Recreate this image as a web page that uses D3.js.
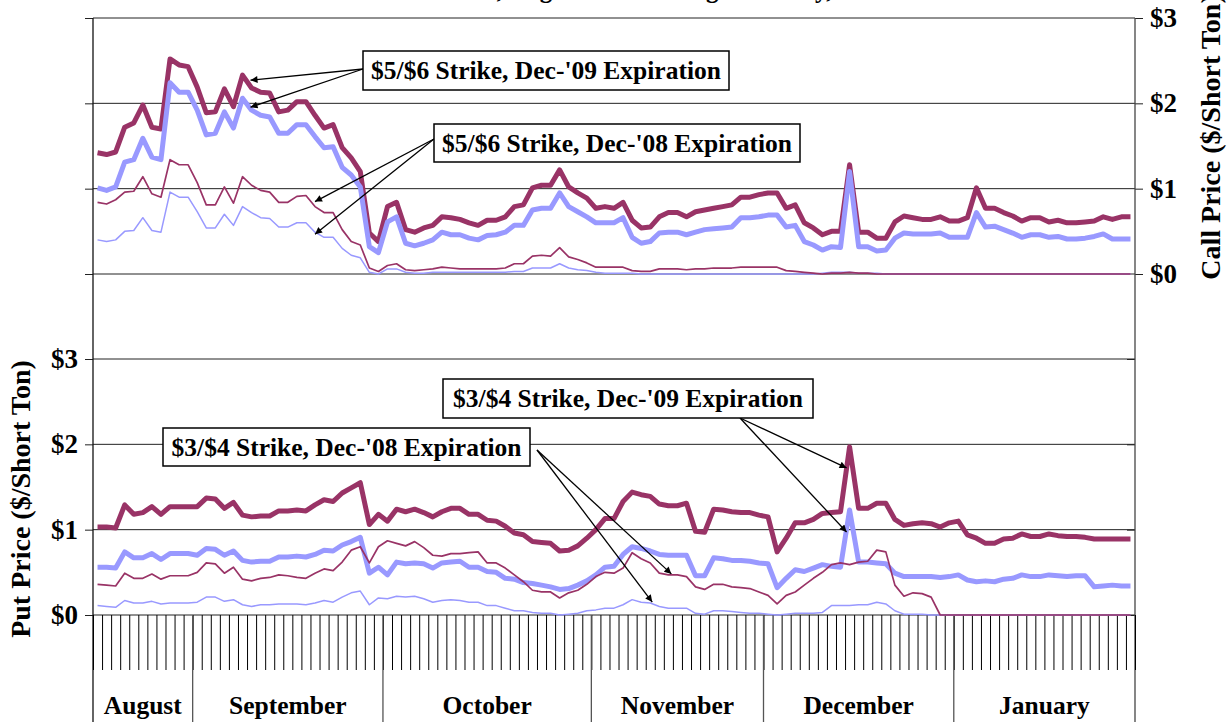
<!DOCTYPE html>
<html>
<head>
<meta charset="utf-8">
<script src="https://cdn.jsdelivr.net/npm/d3@7"></script>
<style>
  body { margin: 0; background: #fff; }
  svg text { font-family: "Liberation Serif", "Times New Roman", serif; font-weight: bold; fill: #000; }
</style>
</head>
<body>
<svg id="chart" width="1231" height="724"></svg>
<script>
// trading days per month, Aug '08 - Jan '09
const months = ["August", "September", "October", "November", "December", "January"];
const monthDays = [11, 21, 23, 19, 21, 20];
const priceTicks = [0, 1, 2, 3];

// call prices ($/short ton), one value per trading day
const call5Dec09 = [
  1.42, 1.40, 1.43, 1.72, 1.77, 1.98, 1.72, 1.70, 2.52, 2.45, 2.43,
  2.19, 1.89, 1.90, 2.17, 1.96, 2.33, 2.18, 2.13, 2.12, 1.90, 1.92, 2.02, 2.02, 1.86, 1.71, 1.75, 1.48, 1.36, 1.20, 0.48, 0.38,
  0.79, 0.84, 0.52, 0.49, 0.54, 0.57, 0.67, 0.66, 0.64, 0.60, 0.57, 0.63, 0.63, 0.67, 0.79, 0.81, 1.01, 1.04, 1.04, 1.22, 1.02, 0.95, 0.89,
  0.77, 0.79, 0.77, 0.84, 0.63, 0.54, 0.55, 0.67, 0.72, 0.72, 0.67, 0.73, 0.75, 0.77, 0.79, 0.81, 0.90, 0.90, 0.93,
  0.95, 0.95, 0.77, 0.81, 0.60, 0.54, 0.46, 0.50, 0.50, 1.28, 0.49, 0.49, 0.42, 0.42, 0.61, 0.68, 0.66, 0.64, 0.64, 0.67, 0.62,
  0.62, 0.66, 1.01, 0.77, 0.77, 0.72, 0.68, 0.62, 0.66, 0.66, 0.61, 0.63, 0.60, 0.60, 0.61, 0.62, 0.67, 0.64, 0.67, 0.67
];
const call6Dec09 = [
  1.01, 0.98, 1.02, 1.31, 1.34, 1.59, 1.37, 1.34, 2.24, 2.13, 2.13,
  1.92, 1.63, 1.65, 1.90, 1.71, 2.06, 1.92, 1.86, 1.84, 1.65, 1.65, 1.75, 1.75, 1.61, 1.48, 1.49, 1.25, 1.16, 1.02, 0.32, 0.25,
  0.61, 0.67, 0.36, 0.33, 0.36, 0.40, 0.49, 0.46, 0.46, 0.42, 0.40, 0.45, 0.46, 0.49, 0.57, 0.57, 0.75, 0.77, 0.77, 0.95, 0.79, 0.73, 0.67,
  0.60, 0.60, 0.60, 0.66, 0.43, 0.36, 0.38, 0.48, 0.49, 0.49, 0.46, 0.49, 0.52, 0.53, 0.54, 0.55, 0.66, 0.66, 0.67,
  0.69, 0.69, 0.55, 0.57, 0.38, 0.34, 0.28, 0.32, 0.31, 1.20, 0.32, 0.32, 0.27, 0.28, 0.42, 0.48, 0.47, 0.47, 0.47, 0.48, 0.43,
  0.43, 0.43, 0.72, 0.55, 0.56, 0.52, 0.48, 0.43, 0.46, 0.46, 0.43, 0.44, 0.41, 0.41, 0.42, 0.44, 0.47, 0.41, 0.41, 0.41
];
const call5Dec08 = [
  0.84, 0.82, 0.87, 0.96, 0.97, 1.14, 0.94, 0.90, 1.34, 1.28, 1.28,
  1.07, 0.81, 0.81, 1.02, 0.83, 1.14, 1.04, 0.98, 0.96, 0.84, 0.84, 0.91, 0.92, 0.79, 0.72, 0.72, 0.52, 0.38, 0.34, 0.07, 0.03,
  0.10, 0.12, 0.05, 0.04, 0.05, 0.06, 0.08, 0.07, 0.06, 0.06, 0.06, 0.06, 0.06, 0.07, 0.12, 0.12, 0.21, 0.22, 0.21, 0.31, 0.20, 0.17, 0.13,
  0.08, 0.08, 0.08, 0.08, 0.04, 0.03, 0.03, 0.06, 0.06, 0.06, 0.05, 0.06, 0.06, 0.07, 0.07, 0.07, 0.08, 0.08, 0.08,
  0.08, 0.08, 0.04, 0.03, 0.02, 0.01, 0.00, 0.01, 0.01, 0.02, 0.01, 0.01, 0, 0, 0, 0, 0, 0, 0, 0, 0,
  0, 0, 0, 0, 0, 0, 0, 0, 0, 0, 0, 0, 0, 0, 0, 0, 0, 0, 0, 0
];
const call6Dec08 = [
  0.40, 0.38, 0.40, 0.50, 0.51, 0.66, 0.51, 0.49, 0.96, 0.90, 0.90,
  0.73, 0.54, 0.54, 0.70, 0.57, 0.79, 0.72, 0.66, 0.65, 0.55, 0.55, 0.60, 0.60, 0.49, 0.43, 0.43, 0.30, 0.22, 0.19, 0.02, 0.00,
  0.06, 0.06, 0.02, 0.01, 0.01, 0.02, 0.02, 0.02, 0.02, 0.02, 0.02, 0.02, 0.02, 0.02, 0.03, 0.03, 0.07, 0.07, 0.07, 0.12, 0.07, 0.05, 0.04,
  0.02, 0.01, 0.01, 0.01, 0.01, 0, 0, 0, 0, 0, 0, 0, 0, 0, 0, 0, 0, 0, 0,
  0, 0, 0, 0, 0, 0, 0.01, 0.02, 0.02, 0.02, 0.01, 0.01, 0.01, 0, 0, 0, 0, 0, 0, 0, 0,
  0, 0, 0, 0, 0, 0, 0, 0, 0, 0, 0, 0, 0, 0, 0, 0, 0, 0, 0, 0
];

// put prices ($/short ton)
const put4Dec09 = [
  1.03, 1.03, 1.02, 1.29, 1.18, 1.20, 1.27, 1.18, 1.27, 1.27, 1.27,
  1.27, 1.37, 1.36, 1.25, 1.32, 1.17, 1.15, 1.16, 1.16, 1.22, 1.22, 1.23, 1.22, 1.29, 1.35, 1.33, 1.43, 1.49, 1.55, 1.06, 1.18,
  1.10, 1.24, 1.21, 1.24, 1.20, 1.15, 1.21, 1.25, 1.25, 1.18, 1.18, 1.11, 1.10, 1.04, 0.96, 0.94, 0.86, 0.85, 0.84, 0.75, 0.76, 0.81, 0.90,
  1.00, 1.13, 1.13, 1.33, 1.44, 1.41, 1.39, 1.30, 1.28, 1.28, 1.31, 0.98, 0.97, 1.24, 1.23, 1.21, 1.20, 1.20, 1.17,
  1.15, 0.74, 0.90, 1.08, 1.08, 1.12, 1.19, 1.20, 1.21, 1.97, 1.25, 1.25, 1.31, 1.31, 1.12, 1.05, 1.07, 1.08, 1.07, 1.03, 1.08,
  1.10, 0.94, 0.90, 0.84, 0.84, 0.89, 0.90, 0.95, 0.92, 0.92, 0.95, 0.93, 0.92, 0.92, 0.91, 0.89, 0.89, 0.89, 0.89, 0.89
];
const put3Dec09 = [
  0.56, 0.56, 0.55, 0.74, 0.67, 0.67, 0.72, 0.65, 0.72, 0.72, 0.72,
  0.70, 0.78, 0.77, 0.70, 0.75, 0.64, 0.62, 0.63, 0.63, 0.68, 0.68, 0.69, 0.68, 0.71, 0.76, 0.75, 0.82, 0.86, 0.91, 0.49, 0.56,
  0.47, 0.62, 0.60, 0.61, 0.60, 0.55, 0.61, 0.62, 0.63, 0.56, 0.56, 0.51, 0.50, 0.43, 0.42, 0.38, 0.37, 0.35, 0.33, 0.30, 0.31, 0.35, 0.40,
  0.47, 0.56, 0.57, 0.71, 0.80, 0.78, 0.75, 0.71, 0.70, 0.70, 0.70, 0.46, 0.46, 0.67, 0.66, 0.64, 0.64, 0.63, 0.61,
  0.60, 0.32, 0.43, 0.53, 0.51, 0.55, 0.59, 0.57, 0.56, 1.23, 0.62, 0.62, 0.61, 0.60, 0.49, 0.45, 0.45, 0.45, 0.45, 0.44, 0.45,
  0.47, 0.41, 0.39, 0.40, 0.39, 0.42, 0.43, 0.47, 0.45, 0.45, 0.47, 0.46, 0.45, 0.46, 0.46, 0.33, 0.34, 0.35, 0.34, 0.34
];
const put4Dec08 = [
  0.36, 0.35, 0.34, 0.49, 0.43, 0.43, 0.48, 0.42, 0.46, 0.46, 0.46,
  0.50, 0.61, 0.60, 0.49, 0.56, 0.42, 0.40, 0.43, 0.44, 0.47, 0.46, 0.44, 0.43, 0.49, 0.54, 0.52, 0.62, 0.76, 0.80, 0.61, 0.80,
  0.87, 0.84, 0.81, 0.86, 0.79, 0.70, 0.69, 0.72, 0.72, 0.73, 0.74, 0.61, 0.61, 0.55, 0.47, 0.39, 0.29, 0.27, 0.27, 0.20, 0.26, 0.29, 0.36,
  0.45, 0.50, 0.49, 0.55, 0.73, 0.66, 0.61, 0.49, 0.47, 0.47, 0.45, 0.33, 0.30, 0.36, 0.36, 0.33, 0.32, 0.31, 0.27,
  0.23, 0.13, 0.23, 0.27, 0.35, 0.43, 0.50, 0.59, 0.61, 0.59, 0.62, 0.63, 0.76, 0.74, 0.35, 0.22, 0.26, 0.25, 0.21, 0, 0,
  0, 0, 0, 0, 0, 0, 0, 0, 0, 0, 0, 0, 0, 0, 0, 0, 0, 0, 0, 0
];
const put3Dec08 = [
  0.11, 0.10, 0.09, 0.17, 0.14, 0.14, 0.16, 0.13, 0.14, 0.14, 0.14,
  0.15, 0.21, 0.21, 0.16, 0.18, 0.12, 0.10, 0.12, 0.12, 0.13, 0.13, 0.13, 0.12, 0.14, 0.17, 0.15, 0.21, 0.26, 0.28, 0.12, 0.20,
  0.19, 0.22, 0.21, 0.22, 0.19, 0.15, 0.17, 0.18, 0.17, 0.15, 0.15, 0.11, 0.11, 0.08, 0.05, 0.05, 0.03, 0.02, 0.02, 0.00, 0.01, 0.02, 0.05,
  0.06, 0.08, 0.08, 0.12, 0.18, 0.15, 0.14, 0.10, 0.08, 0.08, 0.08, 0.02, 0.01, 0.05, 0.05, 0.04, 0.03, 0.02, 0.02,
  0.01, 0.00, 0.01, 0.02, 0.02, 0.02, 0.03, 0.11, 0.11, 0.11, 0.12, 0.12, 0.15, 0.13, 0.05, 0.01, 0.01, 0.01, 0.00, 0, 0,
  0, 0, 0, 0, 0, 0, 0, 0, 0, 0, 0, 0, 0, 0, 0, 0, 0, 0, 0, 0
];

const MAROON = "#993366";
const BLUE = "#9999ff";
const nDays = d3.sum(monthDays);

const svg = d3.select("#chart");
const left = 93, right = 1135;

const x = d3.scaleBand().domain(d3.range(nDays)).range([left, right]);
const xEdge = d3.scaleLinear().domain([0, nDays]).range([left, right]);
const yCall = d3.scaleLinear().domain([0, 3]).range([274, 18]);
const yPut = d3.scaleLinear().domain([0, 3]).range([615, 359]);

// title sits above the picture, only its descenders show
svg.append("text")
  .attr("x", 600).attr("y", -2)
  .attr("text-anchor", "middle")
  .style("font-size", "25px")
  .text("Settlement Prices, August 2008 through January, 2009");

// gridlines
[yCall, yPut].forEach(y => {
  svg.append("g").selectAll("line")
    .data(priceTicks)
    .join("line")
    .attr("x1", left).attr("x2", right)
    .attr("y1", d => y(d)).attr("y2", d => y(d))
    .attr("stroke", "#222").attr("stroke-width", 1);
});

// left axis: put labels, unlabeled ticks for call levels
const gLeft = svg.append("g").attr("transform", `translate(${left},0)`);
gLeft.append("g").call(d3.axisLeft(yPut).tickValues(priceTicks).tickSize(8).tickPadding(7).tickFormat(d => `$${d}`));
gLeft.append("g").call(d3.axisLeft(yCall).tickValues(priceTicks).tickSize(8).tickFormat(""));

// right axis: call labels, inner ticks for put levels
const gRight = svg.append("g").attr("transform", `translate(${right},0)`);
gRight.append("g").call(d3.axisRight(yCall).tickValues(priceTicks).tickSize(8).tickPadding(7).tickFormat(d => `$${d}`));
gRight.append("g").call(d3.axisLeft(yPut).tickValues(priceTicks).tickSize(8).tickFormat(""));

svg.selectAll(".domain").remove();
svg.selectAll(".tick line").attr("stroke", "#222");
svg.selectAll(".tick text")
  .attr("font-family", null).attr("font-size", null)
  .style("font-size", "27px");

svg.append("line").attr("x1", left).attr("x2", left).attr("y1", 18).attr("y2", 722).attr("stroke", "#111").attr("stroke-width", 1.3);
svg.append("line").attr("x1", right).attr("x2", right).attr("y1", 18).attr("y2", 722).attr("stroke", "#444").attr("stroke-width", 1.3);

// day ticks under the put panel
const gBottom = svg.append("g").attr("transform", "translate(0,615)");
gBottom.call(d3.axisBottom(xEdge).tickValues(d3.range(nDays + 1)).tickSize(55).tickFormat(""));
gBottom.select(".domain").remove();
gBottom.selectAll(".tick line").attr("stroke", "#000").attr("stroke-width", 1);

// month separators and names
const monthStart = d3.cumsum([0, ...monthDays]);
svg.append("g").selectAll("line")
  .data(monthStart.slice(1, -1))
  .join("line")
  .attr("x1", d => xEdge(d)).attr("x2", d => xEdge(d))
  .attr("y1", 615).attr("y2", 722)
  .attr("stroke", "#555").attr("stroke-width", 1.3);

svg.append("g").selectAll("text")
  .data(months)
  .join("text")
  .attr("x", (d, i) => (xEdge(monthStart[i]) + xEdge(monthStart[i + 1])) / 2)
  .attr("y", 714)
  .attr("text-anchor", "middle")
  .style("font-size", "25.5px")
  .text(d => d);

// axis titles
svg.append("text")
  .attr("transform", "translate(30,499) rotate(-90)")
  .attr("text-anchor", "middle")
  .style("font-size", "28px")
  .text("Put Price ($/Short Ton)");
svg.append("text")
  .attr("transform", "translate(1220,137) rotate(-90)")
  .attr("text-anchor", "middle")
  .style("font-size", "28px")
  .text("Call Price ($/Short Ton)");

// series
const series = [
  { values: call5Dec09, y: yCall, color: MAROON, width: 5 },
  { values: call6Dec09, y: yCall, color: BLUE, width: 5 },
  { values: call6Dec08, y: yCall, color: BLUE, width: 1.5 },
  { values: call5Dec08, y: yCall, color: MAROON, width: 1.7 },
  { values: put4Dec09, y: yPut, color: MAROON, width: 5 },
  { values: put3Dec09, y: yPut, color: BLUE, width: 5 },
  { values: put3Dec08, y: yPut, color: BLUE, width: 1.5 },
  { values: put4Dec08, y: yPut, color: MAROON, width: 1.7 }
];

const xc = i => x(i) + x.bandwidth() / 2;

series.forEach(s => {
  const line = d3.line().x((d, i) => xc(i)).y(d => s.y(d));
  svg.append("path")
    .datum(s.values)
    .attr("fill", "none")
    .attr("stroke", s.color)
    .attr("stroke-width", s.width)
    .attr("stroke-linejoin", "round")
    .attr("d", line);
});

// callout boxes with arrows
svg.append("defs").append("marker")
  .attr("id", "arrow")
  .attr("viewBox", "0 0 10 10")
  .attr("refX", 10).attr("refY", 5)
  .attr("markerWidth", 10).attr("markerHeight", 7)
  .attr("markerUnits", "userSpaceOnUse")
  .attr("orient", "auto")
  .append("path").attr("d", "M0,0L10,5L0,10Z").attr("fill", "#000");

const callouts = [
  { label: "$5/$6 Strike, Dec-'09 Expiration", box: [363, 51, 366, 39], from: [363, 69],
    to: [[call5Dec09, yCall, 16, 8, 5], [call6Dec09, yCall, 16, 8, 9]] },
  { label: "$5/$6 Strike, Dec-'08 Expiration", box: [434, 124, 366, 38], from: [434, 139],
    to: [[call5Dec08, yCall, 24, 0, -5], [call6Dec08, yCall, 24, 0, 2]] },
  { label: "$3/$4 Strike, Dec-'09 Expiration", box: [443, 379, 370, 39], from: [740, 418],
    to: [[put4Dec09, yPut, 83, -3, 21], [put3Dec09, yPut, 83, -3, 22]] },
  { label: "$3/$4 Strike, Dec-'08 Expiration", box: [163, 428, 367, 38], from: [537, 450],
    to: [[put4Dec08, yPut, 63, 3, -1], [put3Dec08, yPut, 61, 2, -1]] }
];

callouts.forEach(c => {
  const [bx, by, bw, bh] = c.box;
  c.to.forEach(([vals, y, i, dx, dy]) => {
    svg.append("line")
      .attr("x1", c.from[0]).attr("y1", c.from[1])
      .attr("x2", xc(i) + dx).attr("y2", y(vals[i]) + dy)
      .attr("stroke", "#000").attr("stroke-width", 1.3)
      .attr("marker-end", "url(#arrow)");
  });
  svg.append("rect")
    .attr("x", bx).attr("y", by).attr("width", bw).attr("height", bh)
    .attr("fill", "#fff").attr("stroke", "#000").attr("stroke-width", 1.5);
  svg.append("text")
    .attr("x", bx + bw / 2).attr("y", by + bh / 2 + 8.5)
    .attr("text-anchor", "middle")
    .style("font-size", "25.5px")
    .text(c.label);
});
</script>
</body>
</html>
